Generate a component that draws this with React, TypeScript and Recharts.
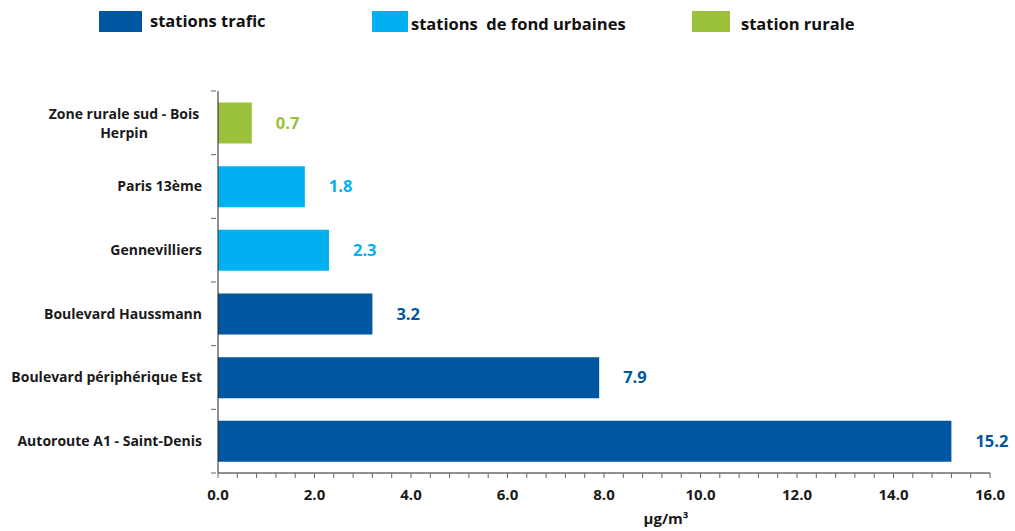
import { BarChart, Bar, XAxis, YAxis, Cell, LabelList } from "recharts";

const stations = [
    "Zone rurale sud - Bois Herpin",
    "Paris 13ème",
    "Gennevilliers",
    "Boulevard Haussmann",
    "Boulevard périphérique Est",
    "Autoroute A1 - Saint-Denis",
];
const values = [0.7, 1.8, 2.3, 3.2, 7.9, 15.2];
const stationTypes = ["rurale", "fond", "fond", "trafic", "trafic", "trafic"];

const legendLabels = ["stations trafic", "stations  de fond urbaines", "station rurale"];
const legendKeys = ["trafic", "fond", "rurale"];

const xTicks = [0, 0.4, 0.8, 1.2, 1.6, 2, 2.4, 2.8, 3.2, 3.6, 4, 4.4, 4.8, 5.2, 5.6, 6, 6.4, 6.8, 7.2, 7.6, 8,
    8.4, 8.8, 9.2, 9.6, 10, 10.4, 10.8, 11.2, 11.6, 12, 12.4, 12.8, 13.2, 13.6, 14, 14.4, 14.8, 15.2, 15.6, 16];

const colors: Record<string, string> = {
    trafic: "#0056A0",
    fond: "#00B0F0",
    rurale: "#9BC13C",
};

const data = stations.map((name, i) => ({ name, value: values[i], type: stationTypes[i] }));

const FONT = "'Open Sans', sans-serif";
const PLOT_H = 382;

const StationTick = (props: any) => {
    const { x, y, payload, index } = props;
    const label: string = payload.value;
    const axisX = x + 6;
    const half = PLOT_H / stations.length / 2;
    // excel-style tick marks between the categories
    const marks = (
        <g stroke="#666">
            <line x1={axisX - 5} x2={axisX} y1={y - half} y2={y - half} />
            {index === stations.length - 1 && <line x1={axisX - 5} x2={axisX} y1={y + half} y2={y + half} />}
        </g>
    );
    if (label.length > 27) {
        const cut = label.lastIndexOf(" ", 22);
        const lines = [label.slice(0, cut), label.slice(cut + 1)];
        return (
            <g>
                {marks}
                <text x={x - 86} y={y} textAnchor="middle" fontFamily={FONT} fontSize={14} fontWeight={700} fill="#1a1a1a">
                    {lines.map((l, i) => (
                        <tspan key={i} x={x - 86} dy={i === 0 ? "-0.3em" : "1.35em"}>{l}</tspan>
                    ))}
                </text>
            </g>
        );
    }
    return (
        <g>
            {marks}
            <text x={x - 8} y={y} dy="0.35em" textAnchor="end" fontFamily={FONT} fontSize={14} fontWeight={700} fill="#1a1a1a">
                {label}
            </text>
        </g>
    );
};

const ValueLabel = (props: any) => {
    const { x, y, width, height, value, index } = props;
    return (
        <text x={x + width + 24} y={y + height / 2} dy="0.35em" fontFamily={FONT} fontSize={16.5} fontWeight={700}
            fill={colors[stationTypes[index]]}>
            {Number(value).toFixed(1)}
        </text>
    );
};

const TopLegend = () => {
    const pos = [{ box: 99, w: 43, text: 150 }, { box: 372, w: 36, text: 411 }, { box: 692, w: 38, text: 741 }];
    return (
        <div style={{ position: "absolute", left: 0, top: 0, width: 1015, height: 40, fontFamily: FONT, fontWeight: 700, fontSize: 16.5, color: "#111" }}>
            {legendLabels.map((lab, i) => (
                <div key={i}>
                    <div style={{ position: "absolute", left: pos[i].box, top: 11, width: pos[i].w, height: 21, background: colors[legendKeys[i]] }} />
                    <div style={{ position: "absolute", left: pos[i].text, top: i === 0 ? 10 : 13, lineHeight: "22px", whiteSpace: "pre" }}>{lab}</div>
                </div>
            ))}
        </div>
    );
};

export default function App() {
    return (
        <div style={{ position: "absolute", left: 0, top: 0, width: 1015, height: 531 }}>
            <BarChart width={1015} height={531} data={data} layout="vertical"
                margin={{ top: 91, right: 25, bottom: 0, left: 0 }} barCategoryGap="18%">
                <XAxis type="number" domain={[0, 16]} ticks={xTicks} interval={0} height={58}
                    axisLine={{ stroke: "#222" }} tickLine={{ stroke: "#666" }} tickSize={5} tickMargin={11}
                    tickFormatter={(v: number) => (v % 2 === 0 ? v.toFixed(1) : "")}
                    tick={{ fontFamily: FONT, fontSize: 15, fontWeight: 700, fill: "#1a1a1a" }}
                    label={{ value: "µg/m³", position: "insideBottom", offset: 7, dx: 62, fontFamily: FONT, fontSize: 15, fontWeight: 700, fill: "#1a1a1a" }} />
                <YAxis type="category" dataKey="name" width={218} tick={<StationTick />}
                    tickLine={false} axisLine={{ stroke: "#222" }} />
                <Bar dataKey="value" isAnimationActive={false}>
                    {data.map((d, i) => (
                        <Cell key={i} fill={colors[d.type]} />
                    ))}
                    <LabelList dataKey="value" content={<ValueLabel />} />
                </Bar>
            </BarChart>
            <TopLegend />
        </div>
    );
}
